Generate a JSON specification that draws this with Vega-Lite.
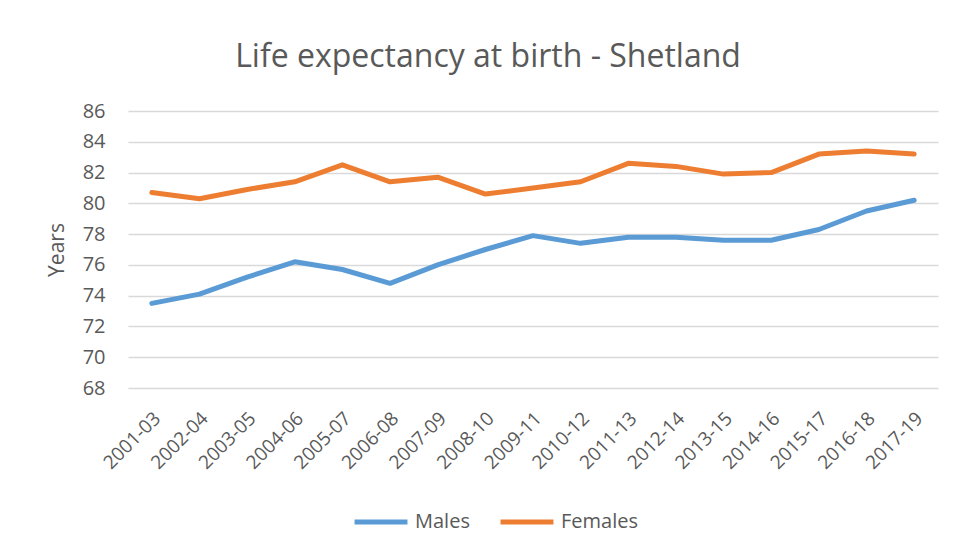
{
  "$schema": "https://vega.github.io/schema/vega-lite/v6.json",
  "width": 810,
  "height": 277,
  "autosize": {"type": "none"},
  "padding": {"left": 128, "top": 111, "right": 15, "bottom": 164},
  "background": "white",
  "title": {
    "text": "Life expectancy at birth - Shetland",
    "font": "Open Sans",
    "fontSize": 32,
    "fontWeight": "normal",
    "color": "#595959",
    "anchor": "middle",
    "frame": "group",
    "baseline": "alphabetic",
    "offset": 2,
    "dx": -45
  },
  "config": {
    "view": {"stroke": null},
    "font": "Open Sans",
    "axis": {
      "labelFont": "Open Sans",
      "titleFont": "Open Sans",
      "labelColor": "#595959",
      "titleColor": "#595959",
      "domain": false,
      "ticks": false,
      "tickSize": 0
    }
  },
  "data": {
    "values": [
      {"period": "2001-03", "sex": "Males", "years": 73.5},
      {"period": "2002-04", "sex": "Males", "years": 74.1},
      {"period": "2003-05", "sex": "Males", "years": 75.2},
      {"period": "2004-06", "sex": "Males", "years": 76.2},
      {"period": "2005-07", "sex": "Males", "years": 75.7},
      {"period": "2006-08", "sex": "Males", "years": 74.8},
      {"period": "2007-09", "sex": "Males", "years": 76.0},
      {"period": "2008-10", "sex": "Males", "years": 77.0},
      {"period": "2009-11", "sex": "Males", "years": 77.9},
      {"period": "2010-12", "sex": "Males", "years": 77.4},
      {"period": "2011-13", "sex": "Males", "years": 77.8},
      {"period": "2012-14", "sex": "Males", "years": 77.8},
      {"period": "2013-15", "sex": "Males", "years": 77.6},
      {"period": "2014-16", "sex": "Males", "years": 77.6},
      {"period": "2015-17", "sex": "Males", "years": 78.3},
      {"period": "2016-18", "sex": "Males", "years": 79.5},
      {"period": "2017-19", "sex": "Males", "years": 80.2},
      {"period": "2001-03", "sex": "Females", "years": 80.7},
      {"period": "2002-04", "sex": "Females", "years": 80.3},
      {"period": "2003-05", "sex": "Females", "years": 80.9},
      {"period": "2004-06", "sex": "Females", "years": 81.4},
      {"period": "2005-07", "sex": "Females", "years": 82.5},
      {"period": "2006-08", "sex": "Females", "years": 81.4},
      {"period": "2007-09", "sex": "Females", "years": 81.7},
      {"period": "2008-10", "sex": "Females", "years": 80.6},
      {"period": "2009-11", "sex": "Females", "years": 81.0},
      {"period": "2010-12", "sex": "Females", "years": 81.4},
      {"period": "2011-13", "sex": "Females", "years": 82.6},
      {"period": "2012-14", "sex": "Females", "years": 82.4},
      {"period": "2013-15", "sex": "Females", "years": 81.9},
      {"period": "2014-16", "sex": "Females", "years": 82.0},
      {"period": "2015-17", "sex": "Females", "years": 83.2},
      {"period": "2016-18", "sex": "Females", "years": 83.4},
      {"period": "2017-19", "sex": "Females", "years": 83.2}
    ]
  },
  "mark": {"type": "line", "strokeWidth": 5, "strokeCap": "round", "strokeJoin": "round"},
  "encoding": {
    "x": {
      "field": "period",
      "type": "ordinal",
      "scale": {"type": "point", "padding": 0.5},
      "axis": {
        "title": null,
        "grid": false,
        "labelAngle": -45,
        "labelAlign": "right",
        "labelBaseline": "middle",
        "labelFontSize": 19,
        "labelPadding": 27,
        "labelOffset": 5
      }
    },
    "y": {
      "field": "years",
      "type": "quantitative",
      "scale": {"domain": [68, 86], "nice": false, "zero": false},
      "axis": {
        "title": "Years",
        "titleFontSize": 21,
        "titleFontWeight": "normal",
        "titlePadding": 15,
        "values": [68, 70, 72, 74, 76, 78, 80, 82, 84, 86],
        "labelFontSize": 20,
        "labelPadding": 23,
        "grid": true,
        "gridColor": "#D9D9D9",
        "gridWidth": 1.5
      }
    },
    "color": {
      "field": "sex",
      "type": "nominal",
      "sort": ["Males", "Females"],
      "scale": {"domain": ["Males", "Females"], "range": ["#5B9BD5", "#ED7D31"]},
      "legend": {
        "title": null,
        "orient": "none",
        "direction": "horizontal",
        "legendX": 224,
        "legendY": 382,
        "symbolType": "stroke",
        "symbolSize": 2800,
        "symbolStrokeWidth": 5,
        "labelFontSize": 20,
        "labelColor": "#595959",
        "labelFont": "Open Sans",
        "labelOffset": 5,
        "columnPadding": 20
      }
    }
  }
}
